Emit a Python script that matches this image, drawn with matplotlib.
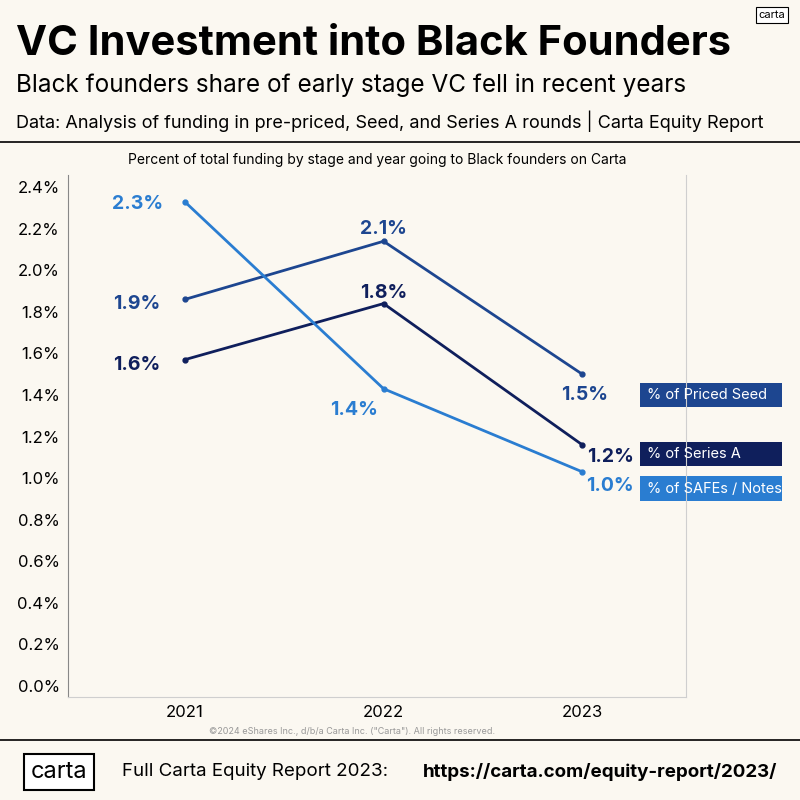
import matplotlib.pyplot as plt
from matplotlib.patches import Rectangle

years = ['2021', '2022', '2023']
priced_seed = [1.86, 2.14, 1.50]
series_a = [1.57, 1.84, 1.16]
safes = [2.33, 1.43, 1.03]
yticks = [0.0, 0.2, 0.4, 0.6, 0.8, 1.0, 1.2, 1.4, 1.6, 1.8, 2.0, 2.2, 2.4]

bg = '#fbf8f1'
c_seed = '#1d4690'
c_a = '#0f1f5c'
c_safe = '#2a7dd1'

plt.rcParams['font.family'] = ['Inter', 'DejaVu Sans']
fig = plt.figure(figsize=(8, 8), dpi=100, facecolor=bg)
ax = fig.add_axes([0.085, 0.129, 0.772, 0.652], facecolor=bg)

x = [0, 1, 2]
for vals, col in [(priced_seed, c_seed), (series_a, c_a), (safes, c_safe)]:
    ax.plot(x, vals, color=col, lw=2, marker='o', ms=3.5)

lab = dict(fontsize=14, fontweight='bold', ha='center', va='center')
ax.text(-0.24, 1.84, f'{priced_seed[0]:.1f}%', color=c_seed, **lab)
ax.text(-0.24, 1.545, f'{series_a[0]:.1f}%', color=c_a, **lab)
ax.text(-0.24, 2.32, f'{safes[0]:.1f}%', color=c_safe, **lab)
ax.text(1, 2.20, f'{priced_seed[1]:.1f}%', color=c_seed, **lab)
ax.text(1, 1.89, f'{series_a[1]:.1f}%', color=c_a, **lab)
ax.text(0.85, 1.33, f'{safes[1]:.1f}%', color=c_safe, **lab)
ax.text(2.01, 1.40, f'{priced_seed[2]:.1f}%', color=c_seed, **lab)
ax.text(2.14, 1.10, f'{series_a[2]:.1f}%', color=c_a, **lab)
ax.text(2.14, 0.962, f'{safes[2]:.1f}%', color=c_safe, **lab)

for yc, name, col in [(1.40, '% of Priced Seed', c_seed), (1.116, '% of Series A', c_a),
                      (0.948, '% of SAFEs / Notes', c_safe)]:
    ax.add_patch(Rectangle((2.29, yc - 0.06), 0.715, 0.12, fc=col, ec='none', clip_on=False))
    ax.text(2.325, yc, name, fontsize=10.5, color='white', ha='left', va='center', clip_on=False)

ax.set_xlim(-0.588, 2.52)
ax.set_ylim(-0.053, 2.458)
ax.set_xticks(x)
ax.set_xticklabels(years, fontsize=12)
ax.set_yticks(yticks)
ax.set_yticklabels([f'{v:.1f}%' for v in yticks], fontsize=12)
ax.tick_params(length=0, pad=6)
ax.spines['top'].set_visible(False)
for s in ['left', 'bottom', 'right']:
    ax.spines[s].set_color('#cfcfcf')
ax.spines['left'].set_color('#888888')
ax.set_title('Percent of total funding by stage and year going to Black founders on Carta',
             fontsize=10, pad=8)

fig.text(0.02, 0.945, 'VC Investment into Black Founders', fontsize=30, fontweight='bold', va='center')
fig.text(0.02, 0.893, 'Black founders share of early stage VC fell in recent years', fontsize=17.5, va='center')
fig.text(0.02, 0.848, 'Data: Analysis of funding in pre-priced, Seed, and Series A rounds | Carta Equity Report',
         fontsize=13, va='center')
fig.text(0.965, 0.981, 'carta', fontsize=8, ha='center', va='center',
         bbox=dict(fc='white', ec='black', pad=2, lw=0.8))
fig.add_artist(plt.Line2D([0, 1], [0.822, 0.822], color='black', lw=1.2))
fig.add_artist(plt.Line2D([0, 1], [0.075, 0.075], color='black', lw=1.2))
fig.text(0.44, 0.085, '©2024 eShares Inc., d/b/a Carta Inc. ("Carta"). All rights reserved.',
         fontsize=6.5, color='#999999', ha='center', va='center')
fig.text(0.074, 0.035, 'carta', fontsize=17, ha='center', va='center',
         bbox=dict(fc='white', ec='black', pad=5, lw=1.5))
fig.text(0.152, 0.035, 'Full Carta Equity Report 2023:', fontsize=13.5, va='center')
fig.text(0.972, 0.035, 'https://carta.com/equity-report/2023/', fontsize=13.5, fontweight='bold',
         va='center', ha='right')

fig.savefig('out.png', dpi=100, facecolor=bg)
